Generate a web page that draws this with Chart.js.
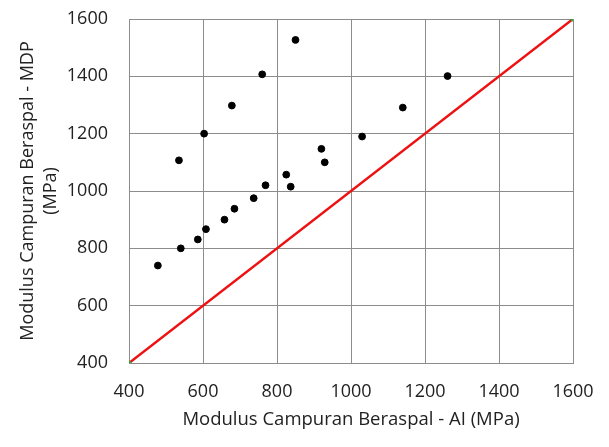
<!DOCTYPE html>
<html>
<head>
<meta charset="utf-8">
<script src="https://cdn.jsdelivr.net/npm/chart.js@4"></script>
<style>
	html, body { margin: 0; padding: 0; background: #fff; }
	#wrap { width: 609px; height: 447px; }
</style>
</head>
<body>
<div id="wrap"><canvas id="scatter-chart"></canvas></div>
<script>
// data
var modulusAI  = [478, 535, 540, 586, 603, 608, 658, 678, 685, 737, 760, 769, 825, 837, 850, 920, 929, 1030, 1140, 1261];
var modulusMDP = [740, 1107, 800, 831, 1200, 867, 900, 1298, 938, 975, 1407, 1020, 1057, 1015, 1527, 1147, 1100, 1190, 1291, 1401];
var equalityX = [400, 1600];
var equalityY = [400, 1600];
var tickValues = [400, 600, 800, 1000, 1200, 1400, 1600];

var pointsData = [];
for (var i = 0; i < modulusAI.length; i++) {
	pointsData.push({ x: modulusAI[i], y: modulusMDP[i] });
}
var lineData = [];
for (var j = 0; j < equalityX.length; j++) {
	lineData.push({ x: equalityX[j], y: equalityY[j] });
}

Chart.defaults.font.family = "'Open Sans', sans-serif";
Chart.defaults.color = '#222';

function plainTick(v) { return String(v); }

new Chart(document.getElementById("scatter-chart"), {
	type: 'scatter',
	data: {
		datasets: [{
			label: 'Data',
			data: pointsData,
			backgroundColor: '#000',
			borderColor: '#000',
			pointRadius: 3.4,
			order: 1
		}, {
			label: 'Garis 1:1',
			type: 'line',
			data: lineData,
			borderColor: '#ee1111',
			borderWidth: 2.5,
			pointRadius: 2.5,
			pointBorderWidth: 0,
			pointBackgroundColor: '#2fa82f',
			fill: false,
			order: 2
		}]
	},
	options: {
		responsive: true,
		maintainAspectRatio: false,
		animation: false,
		layout: { padding: { top: 19, right: 36, left: 12, bottom: 12 } },
		plugins: {
			legend: { display: false },
			tooltip: { enabled: false }
		},
		scales: {
			x: {
				type: 'linear',
				min: 400,
				max: 1600,
				afterBuildTicks: function(scale) {
					scale.ticks = tickValues.map(function(v) { return { value: v }; });
				},
				afterFit: function(scale) { scale.height = 72; },
				// invisible tick marks give the label gap without widening the side padding
				grid: { color: '#8c8c8c', lineWidth: 1, drawTicks: true, tickLength: 16, tickColor: 'rgba(0,0,0,0)' },
				border: { color: '#8c8c8c' },
				ticks: { padding: 2, font: { size: 18 }, callback: plainTick },
				title: {
					display: true,
					text: 'Modulus Campuran Beraspal - AI (MPa)',
					font: { size: 18.5 }
				}
			},
			y: {
				type: 'linear',
				min: 400,
				max: 1600,
				afterBuildTicks: function(scale) {
					scale.ticks = tickValues.map(function(v) { return { value: v }; });
				},
				afterFit: function(scale) { scale.width = 117; },
				grid: { color: '#8c8c8c', lineWidth: 1, drawTicks: true, tickLength: 19, tickColor: 'rgba(0,0,0,0)' },
				border: { color: '#8c8c8c' },
				ticks: { padding: 2, font: { size: 18 }, callback: plainTick },
				title: {
					display: true,
					text: ['Modulus Campuran Beraspal - MDP', '(MPa)'],
					font: { size: 18, lineHeight: 1.3 }
				}
			}
		}
	}
});
</script>
</body>
</html>
